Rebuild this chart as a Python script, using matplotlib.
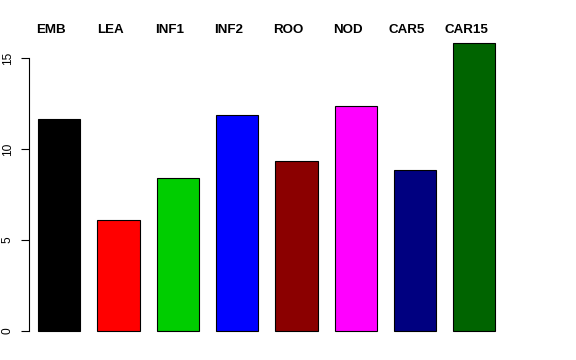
import matplotlib
matplotlib.use("Agg")
import matplotlib.pyplot as plt
import numpy as np

plt.rcParams['font.family'] = ['Liberation Sans', 'DejaVu Sans']

categories = ["EMB", "LEA", "INF1", "INF2", "ROO", "NOD", "CAR5", "CAR15"]
values = [11.65, 6.1, 8.4, 11.85, 9.32, 12.35, 8.83, 15.85]
colors = ["#000000", "#FF0000", "#00CD00", "#0000FF", "#8B0000", "#FF00FF", "#000080", "#006400"]
yticks = [0, 5, 10, 15]

W, H = 576, 360
fig = plt.figure(figsize=(W / 100, H / 100), dpi=100)

# pixel layout of plot region (R barplot look)
left_px, right_px = 29, 560
bottom_px, top_px = 331, 30
ax = fig.add_axes([left_px / W, 1 - bottom_px / H,
                   (right_px - left_px) / W, (bottom_px - top_px) / H])

px_x = 59.3 / 1.4
px_y = 18.2
centers = 0.9 + 1.4 * np.arange(len(categories))
ax.bar(centers, values, width=1.0, color=colors, edgecolor="black",
       linewidth=0.8, clip_on=False)

ax.set_xlim(0.4 - 9 / px_x, 0.4 + (right_px - 38) / px_x)
ax.set_ylim(0, (bottom_px - top_px) / px_y)

for c, name in zip(centers, categories):
    ax.text(c - 8 / px_x, (bottom_px - 30) / px_y, name, ha="center", va="center",
            fontsize=9.6, fontweight="bold", clip_on=False)

for s in ["top", "right", "bottom"]:
    ax.spines[s].set_visible(False)
ax.spines["left"].set_bounds(0, 15)
ax.spines["left"].set_linewidth(0.8)
ax.set_xticks([])
ax.set_yticks(yticks)
ax.set_yticklabels([str(t) for t in yticks], rotation=90, va="center", fontsize=8.6)
ax.tick_params(axis="y", length=6, width=0.8, pad=5)

fig.savefig("out.png", dpi=100)
